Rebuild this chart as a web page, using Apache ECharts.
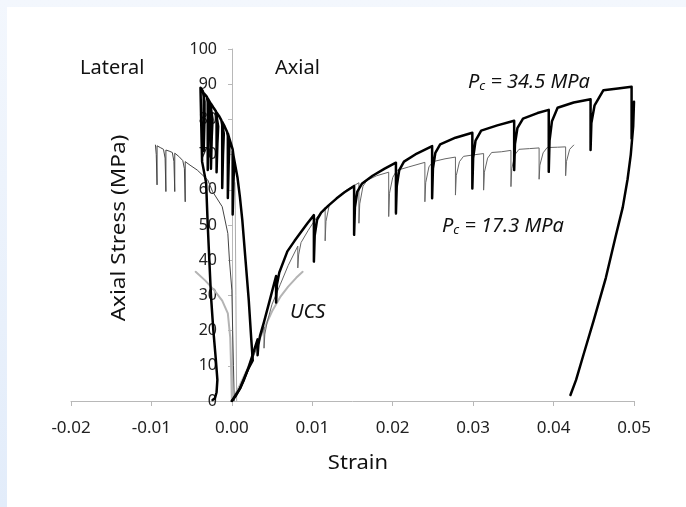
<!DOCTYPE html>
<html>
<head>
<meta charset="utf-8">
<script src="https://cdn.jsdelivr.net/npm/echarts@6/dist/echarts.min.js"></script>
<style>
html,body{margin:0;padding:0;}
#c{width:686px;height:507px;}
</style>
</head>
<body>
<div id="c"></div>
<script>
// Strain (x) / Axial stress MPa (y)
const xTickValues = [-0.02, -0.01, 0.00, 0.01, 0.02, 0.03, 0.04, 0.05];
const yTickValues = [0, 10, 20, 30, 40, 50, 60, 70, 80, 90, 100];

const ucsAxial = [[0,0],[0.001,4.5],[0.002,9.5],[0.003,15],[0.004,20.5],[0.005,25.5],[0.006,29.5],[0.007,32.5],[0.008,35],[0.0088,36.7]];
const ucsLateral = [[0,0],[-0.0001,10],[-0.0002,18],[-0.0005,24.9],[-0.0012,28.5],[-0.0022,31.5],[-0.0033,34.2],[-0.0045,36.7]];

const pc17Axial = [[0,0],[0.001,3.5],[0.002,8.5],[0.003,14.5],[0.004,21],
 [0.004,15],[0.0041,19],[0.0044,22.5],
 [0.005,27.5],[0.006,33],[0.007,38.5],[0.0082,44],
 [0.0082,37.8],[0.0083,41.5],[0.0086,45],
 [0.0095,48.5],[0.0105,52],[0.0116,55],
 [0.0116,45.5],[0.0117,51],[0.0121,55.5],
 [0.013,57.5],[0.0143,60],[0.0158,62],
 [0.0158,50.5],[0.0159,56],[0.0163,61],[0.0168,62.7],
 [0.018,64],[0.0195,65],
 [0.0195,52.4],[0.0196,59],[0.02,63.5],[0.0205,65.5],
 [0.022,66.5],[0.024,67.8],
 [0.024,56.6],[0.0241,62],[0.0245,66.5],[0.025,68],
 [0.0265,68.8],[0.0278,69.3],
 [0.0278,58.5],[0.0279,64],[0.0283,68],[0.0288,69.5],
 [0.03,69.9],[0.0313,70.3],
 [0.0313,59.9],[0.0314,65],[0.0318,69],[0.0323,70.6],
 [0.0335,70.8],[0.0347,71.2],
 [0.0347,60.9],[0.0348,66],[0.0352,70],[0.0357,71.5],
 [0.037,71.7],[0.0382,71.9],
 [0.0382,63],[0.0383,67],[0.0387,70.5],[0.0392,72],
 [0.0405,72.1],[0.0415,72.2],
 [0.0415,64],[0.0416,68],[0.042,71.5],[0.0425,72.7]];

const pc17Lateral = [[0.0003,0],[0.0002,10],[0.0001,20],[0,31.5],[-0.0003,40],[-0.0005,47.6],[-0.0012,55.2],[-0.0024,59.5],[-0.003,62.8],
 [-0.0043,65.6],[-0.0052,67],[-0.0058,68],
 [-0.0058,56.6],[-0.0059,66],[-0.0061,68.3],[-0.0066,69.5],[-0.0071,70.4],
 [-0.0071,59.5],[-0.0072,68],[-0.0074,70.6],[-0.0078,71],[-0.0082,71.3],
 [-0.0082,59.5],[-0.0083,69],[-0.0085,71.5],[-0.0089,72],[-0.0093,72.5],
 [-0.0093,61.4],[-0.0094,70],[-0.0095,72.7]];

const pc17Unload = [[0.0006,0],[0.0005,30],[0.0004,62]];

const pc34Axial = [[0,0],[0.0005,1.5],[0.001,3.5],[0.0015,6],[0.002,9],[0.0025,12.5],[0.0032,17.5],
 [0.0032,13],[0.0033,16],[0.0035,18.5],
 [0.004,22.5],[0.0047,28.5],[0.0055,35.5],
 [0.0055,28],[0.0056,33],[0.0059,36.5],
 [0.0069,42.5],[0.0078,45.5],[0.0086,48],[0.0094,50.5],[0.0102,52.8],
 [0.0102,39.6],[0.0103,47],[0.0106,51.5],[0.0111,53.5],
 [0.012,55.5],[0.013,57.5],[0.014,59.3],[0.0152,61.1],
 [0.0152,47.2],[0.0153,55],[0.0156,59.5],[0.0162,61.8],
 [0.0175,64],[0.019,66],[0.0204,67.7],
 [0.0204,53.3],[0.0205,61],[0.0208,65.5],[0.0214,68],
 [0.023,70.3],[0.0249,72.4],
 [0.0249,57.6],[0.025,66],[0.0253,70.5],[0.0259,72.9],
 [0.0278,74.8],[0.0299,76.2],
 [0.0299,60.4],[0.03,69],[0.0303,74],[0.031,76.8],
 [0.033,78.3],[0.0351,79.6],
 [0.0351,65.6],[0.0352,73],[0.0355,77.5],[0.0362,80.2],
 [0.038,81.8],[0.0394,82.7],
 [0.0394,65.1],[0.0395,74],[0.0398,79.5],[0.0405,83.3],
 [0.0425,84.8],[0.0446,85.7],
 [0.0446,71.3],[0.0447,79],[0.0451,84],[0.0462,88.3],
 [0.048,88.8],[0.0497,89.3],
 [0.0497,74.5],[0.0499,80],[0.05,85],
 [0.0499,78],[0.0496,70],[0.0492,63],[0.0486,55],[0.0477,46.6],[0.0465,35],[0.045,23],[0.0437,13],[0.0428,6],[0.0421,1.7]];

const pc34Lateral = [[0,0],[0.001,3.5],[0.002,9],[0.0026,11.5],[0.0024,18],[0.0021,28.7],[0.0017,40],[0.0013,51.4],[0.001,58],[0.0007,63.5],[0.0003,68.5],[0.0001,71],
 [0.0001,53],[0.0002,62],[0.0003,68],[0.0001,71.5],
 [-0.0003,74.5],[-0.0005,76],
 [-0.0005,57.7],[-0.0004,67],[-0.0003,73],[-0.0006,76.5],
 [-0.0009,78],[-0.0012,79.3],
 [-0.0012,60.5],[-0.0011,70],[-0.001,76],[-0.0013,79.7],
 [-0.0016,81],[-0.0019,82],
 [-0.0019,65],[-0.0018,73],[-0.0017,78],[-0.002,82.4],
 [-0.0023,83.4],[-0.0026,84.5],
 [-0.0026,66],[-0.0025,75],[-0.0024,80],[-0.0027,84.8],
 [-0.003,86],
 [-0.003,65.6],[-0.0029,75],[-0.0028,82],[-0.0031,86.4],
 [-0.0035,87.5],
 [-0.0035,71],[-0.0034,80],[-0.0034,85],[-0.0036,88],
 [-0.0039,89],
 [-0.0038,78],[-0.0037,68],[-0.0032,62],[-0.003,50],[-0.0028,40],[-0.0026,30],[-0.0023,20],[-0.002,12],[-0.0018,6],[-0.0019,2.5],[-0.0021,0.8],[-0.0024,0.3]];

const FONT = '"Noto Sans", "Open Sans", sans-serif';
const chart = echarts.init(document.getElementById('c'), null, {renderer:'canvas'});

function lineSeries(name, data, color, width, z){
  return {name, type:'line', data, showSymbol:false, symbol:'none', smooth:false, silent:true, z:z,
    lineStyle:{color, width, join:'round', cap:'round'}, animation:false};
}

const GRID = {left:71, right:52, top:49, bottom:106};
const plotW = 686 - GRID.left - GRID.right;
const yAxisOffset = -Math.round(plotW * (0 - xTickValues[0]) / (xTickValues[xTickValues.length-1] - xTickValues[0]));

chart.setOption({
  animation:false,
  backgroundColor:{type:'linear', x:0, y:0, x2:0, y2:1, colorStops:[{offset:0,color:'#f3f7fd'},{offset:1,color:'#e2ecfa'}]},
  grid:GRID,
  xAxis:{type:'value', min:-0.02, max:0.05, interval:0.01,
    axisLine:{show:true, onZero:true, lineStyle:{color:'#b8b8b8', width:1}},
    axisTick:{show:true, inside:false, length:5, lineStyle:{color:'#b8b8b8'}},
    splitLine:{show:false},
    axisLabel:{margin:19, color:'#222', fontSize:17, fontFamily:FONT, formatter:v=>v.toFixed(2)}},
  yAxis:{type:'value', min:0, max:100, interval:10, offset:yAxisOffset,
    axisLine:{show:true, onZero:false, lineStyle:{color:'#b8b8b8', width:1}},
    axisTick:{show:true, inside:false, length:4, lineStyle:{color:'#b8b8b8'}},
    splitLine:{show:false},
    axisLabel:{margin:15, color:'#222', fontSize:16, fontFamily:FONT, formatter:v=>String(Math.round(v))}},
  graphic:[
    {type:'rect', shape:{x:7, y:7, width:679, height:500}, style:{fill:'#ffffff'}, z:-100, silent:true},
    {type:'text', x:80, y:68, style:{text:'Lateral', font:'20px '+FONT, fill:'#111', verticalAlign:'middle'}},
    {type:'text', x:275, y:68, style:{text:'Axial', font:'20px '+FONT, fill:'#111', verticalAlign:'middle'}},
    {type:'text', x:468, y:82, style:{rich:{p:{font:'italic 20px '+FONT, fill:'#111'}, s:{font:'italic 13px '+FONT, fill:'#111', verticalAlign:'bottom', padding:[8,0,0,0]}}, text:'{p|P}{s|c}{p| = 34.5 MPa}', verticalAlign:'middle'}},
    {type:'text', x:442, y:226, style:{rich:{p:{font:'italic 20px '+FONT, fill:'#111'}, s:{font:'italic 13px '+FONT, fill:'#111', verticalAlign:'bottom', padding:[8,0,0,0]}}, text:'{p|P}{s|c}{p| = 17.3 MPa}', verticalAlign:'middle'}},
    {type:'text', x:290, y:312, style:{text:'UCS', font:'italic 20px '+FONT, fill:'#111', verticalAlign:'middle'}},
    {type:'text', x:119, y:228, rotation:Math.PI/2, scaleX:1.13, style:{text:'Axial Stress (MPa)', font:'20px '+FONT, fill:'#111', align:'center', verticalAlign:'middle'}},
    {type:'text', x:358, y:463, scaleX:1.1, style:{text:'Strain', font:'20px '+FONT, fill:'#111', align:'center', verticalAlign:'middle'}}
  ],
  series:[
    lineSeries('UCS axial', ucsAxial, '#b4b4b4', 2, 2),
    lineSeries('UCS lateral', ucsLateral, '#b4b4b4', 2, 2),
    lineSeries('Pc17.3 unload', pc17Unload, '#aaaaaa', 1, 3),
    lineSeries('Pc17.3 axial', pc17Axial, '#666666', 1, 3),
    lineSeries('Pc17.3 lateral', pc17Lateral, '#444444', 1, 3),
    lineSeries('Pc34.5 axial', pc34Axial, '#000000', 2.5, 4),
    lineSeries('Pc34.5 lateral', pc34Lateral, '#000000', 2.5, 4)
  ]
});
</script>
</body>
</html>
